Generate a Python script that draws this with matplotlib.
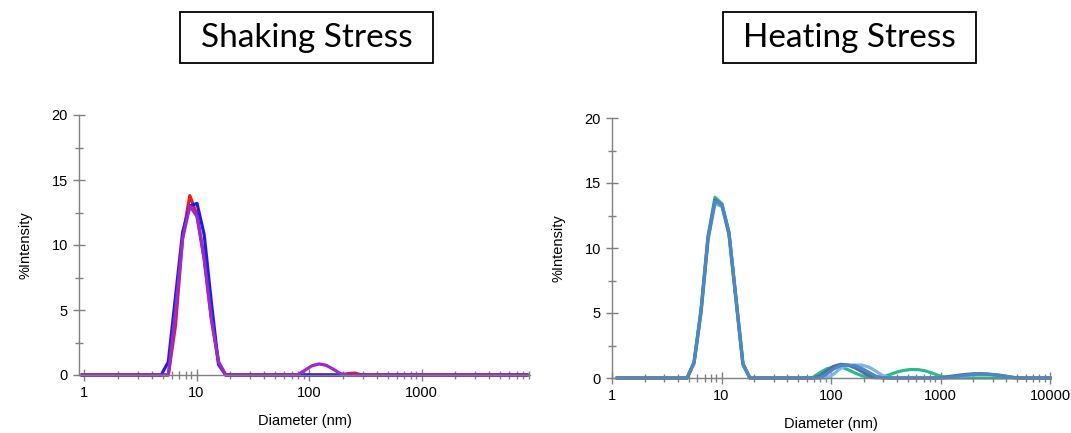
import numpy as np
import matplotlib
matplotlib.use("Agg")
import matplotlib.pyplot as plt
from matplotlib.patches import Rectangle
from matplotlib.ticker import LogLocator, MultipleLocator, FuncFormatter, NullFormatter

plt.rcParams['font.family'] = ['Liberation Sans', 'DejaVu Sans']

# size classes (nm) of the instrument
size_nm = [0.4, 0.4632, 0.5365, 0.6213, 0.7195, 0.8332, 0.9649, 1.117, 1.294, 1.499,
           1.736, 2.010, 2.328, 2.696, 3.122, 3.615, 4.187, 4.849, 5.615, 6.503,
           7.531, 8.721, 10.10, 11.70, 13.54, 15.69, 18.17, 21.04, 24.36, 28.21,
           32.67, 37.84, 43.82, 50.75, 58.77, 68.06, 78.82, 91.28, 105.7, 122.4,
           141.8, 164.2, 190.1, 220.2, 255.0, 295.3, 342.0, 396.1, 458.7, 531.2,
           615.1, 712.4, 825.0, 955.4, 1106, 1281, 1484, 1718, 1990, 2305,
           2669, 3091, 3580, 4145, 4801, 5560, 6439, 7456, 8635, 10000]

# Shaking stress (% intensity per size class)
shake_red = [0, 0, 0, 0, 0, 0, 0, 0, 0, 0,
             0, 0, 0, 0, 0, 0, 0, 0, 0, 3.8,
             10.6, 13.8, 12.3, 9.0, 4.4, 1.0, 0, 0, 0, 0,
             0, 0, 0, 0, 0, 0, 0, 0, 0, 0,
             0, 0, 0, 0.1, 0.15, 0, 0, 0, 0, 0,
             0, 0, 0, 0, 0, 0, 0, 0, 0, 0,
             0, 0, 0, 0, 0, 0, 0, 0, 0, 0]
shake_blue = [0, 0, 0, 0, 0, 0, 0, 0, 0, 0,
              0, 0, 0, 0, 0, 0, 0, 0, 1.0, 6.0,
              11.0, 13.0, 13.2, 10.8, 5.6, 0.8, 0, 0, 0, 0,
              0, 0, 0, 0, 0, 0, 0, 0, 0, 0,
              0, 0, 0, 0, 0, 0, 0, 0, 0, 0,
              0, 0, 0, 0, 0, 0, 0, 0, 0, 0,
              0, 0, 0, 0, 0, 0, 0, 0, 0, 0]
shake_purple = [0, 0, 0, 0, 0, 0, 0, 0, 0, 0,
                0, 0, 0, 0, 0, 0, 0, 0, 0, 4.8,
                10.5, 13.0, 12.2, 8.9, 4.3, 1.0, 0, 0, 0, 0,
                0, 0, 0, 0, 0, 0, 0, 0.35, 0.7, 0.85,
                0.75, 0.45, 0.1, 0, 0, 0, 0, 0, 0, 0,
                0, 0, 0, 0, 0, 0, 0, 0, 0, 0,
                0, 0, 0, 0, 0, 0, 0, 0, 0, 0]

# Heating stress
heat_green = [0, 0, 0, 0, 0, 0, 0, 0, 0, 0,
              0, 0, 0, 0, 0, 0, 0, 0, 1.2, 5.3,
              10.9, 13.9, 13.4, 11.2, 6.2, 1.1, 0, 0, 0, 0,
              0, 0, 0, 0, 0, 0.02, 0.4, 0.7, 0.85, 0.88,
              0.65, 0.4, 0.18, 0.06, 0.02, 0.08, 0.25, 0.45, 0.58, 0.65,
              0.65, 0.57, 0.4, 0.2, 0.04, 0, 0, 0, 0, 0,
              0, 0, 0, 0, 0, 0, 0, 0, 0, 0]
heat_light = [0, 0, 0, 0, 0, 0, 0, 0, 0, 0,
              0, 0, 0, 0, 0, 0, 0, 0, 1.1, 5.0,
              10.6, 13.4, 13.2, 11.0, 6.0, 1.0, 0, 0, 0, 0,
              0, 0, 0, 0, 0, 0, 0, 0, 0.3, 0.75,
              0.95, 1.0, 1.0, 0.85, 0.55, 0.2, 0, 0, 0, 0,
              0, 0, 0, 0, 0, 0, 0.1, 0.18, 0.25, 0.28,
              0.28, 0.24, 0.17, 0.08, 0, 0, 0, 0, 0, 0]
heat_dark = [0, 0, 0, 0, 0, 0, 0, 0, 0, 0,
             0, 0, 0, 0, 0, 0, 0, 0, 1.2, 5.1,
             10.7, 13.7, 13.3, 11.1, 6.1, 1.1, 0, 0, 0, 0,
             0, 0, 0, 0, 0, 0, 0.15, 0.55, 0.9, 1.05,
             1.0, 0.8, 0.5, 0.2, 0.03, 0, 0, 0, 0, 0,
             0, 0, 0, 0, 0.08, 0.15, 0.22, 0.28, 0.32, 0.33,
             0.3, 0.25, 0.18, 0.1, 0.03, 0, 0, 0, 0, 0]
heat_mid = [0, 0, 0, 0, 0, 0, 0, 0, 0, 0,
            0, 0, 0, 0, 0, 0, 0, 0, 1.2, 5.2,
            10.8, 13.6, 13.3, 11.2, 6.2, 1.1, 0, 0, 0, 0,
            0, 0, 0, 0, 0, 0, 0, 0.3, 0.7, 0.95,
            1.0, 0.95, 0.75, 0.45, 0.15, 0.02, 0, 0, 0, 0,
            0, 0, 0, 0, 0, 0.08, 0.15, 0.22, 0.28, 0.3,
            0.3, 0.26, 0.2, 0.1, 0.02, 0, 0, 0, 0, 0]

titles = ["Shaking Stress", "Heating Stress"]

fig = plt.figure(figsize=(10.71, 4.33), dpi=100)
ax1 = fig.add_axes([79 / 1071, 58 / 433, 451 / 1071, 260 / 433])
ax2 = fig.add_axes([612 / 1071, 55 / 433, 438 / 1071, 260 / 433])

lw = 2.3
ax1.plot(size_nm, shake_red, color='#f01818', lw=lw)
ax1.plot(size_nm, shake_blue, color='#1c1cf0', lw=lw)
ax1.plot(size_nm, shake_purple, color='#9a2ad0', lw=lw)

ax2.plot(size_nm, heat_green, color='#2db88f', lw=lw)
ax2.plot(size_nm, heat_light, color='#7fb6e8', lw=lw)
ax2.plot(size_nm, heat_dark, color='#50709f', lw=lw)
ax2.plot(size_nm, heat_mid, color='#4a88c8', lw=lw)

for ax, xr in [(ax1, (0.903, 9200)), (ax2, (1, 10000))]:
    ax.set_xscale('log')
    ax.set_xlim(*xr)
    ax.set_ylim(0, 20)
    for s in ['top', 'right']:
        ax.spines[s].set_visible(False)
    for s in ['left', 'bottom']:
        ax.spines[s].set_color('#808080')
        ax.spines[s].set_linewidth(1.0)
    ax.xaxis.set_major_locator(LogLocator(base=10, numticks=10))
    ax.xaxis.set_minor_locator(LogLocator(base=10, subs=np.arange(2, 10), numticks=20))
    ax.xaxis.set_major_formatter(FuncFormatter(lambda v, p: f"{v:g}" if v < 1e4 else "10000"))
    ax.xaxis.set_minor_formatter(NullFormatter())
    ax.yaxis.set_major_locator(MultipleLocator(5))
    ax.yaxis.set_minor_locator(MultipleLocator(2.5))
    ax.tick_params(which='major', direction='inout', length=8, width=1.0, color='#808080',
                   labelsize=10.5, pad=4)
    ax.tick_params(which='minor', direction='inout', length=6, width=1.0, color='#808080')
    ax.tick_params(axis='y', which='major', pad=4)
    ax.set_xlabel("Diameter (nm)", fontsize=10.5, labelpad=10)
    ax.set_ylabel("%Intensity", fontsize=10.5, labelpad=14)
    ax.patch.set_visible(False)

# trim the curves to the visible x range, then let the baseline draw unclipped
for ax in (ax1, ax2):
    lo, hi = ax.get_xlim()
    for ln in ax.get_lines():
        x, y = ln.get_data()
        x = np.asarray(x)
        y = np.asarray(y)
        keep = (x >= lo * 0.999) & (x <= hi * 1.001)
        ln.set_data(x[keep], y[keep])
        ln.set_clip_on(False)

# boxed titles
for cx, t in [(306.5, titles[0]), (849.5, titles[1])]:
    w, h = 253, 51
    fig.patches.append(Rectangle(((cx - w / 2) / 1071, (433 - 63) / 433), w / 1071, h / 433,
                                 transform=fig.transFigure, fill=False, edgecolor='black',
                                 linewidth=1.3))
    fig.text(cx / 1071, (433 - 38) / 433, t, ha='center', va='center', fontsize=24,
             family=['Lato', 'DejaVu Sans'])

fig.savefig("out.png", dpi=100)
